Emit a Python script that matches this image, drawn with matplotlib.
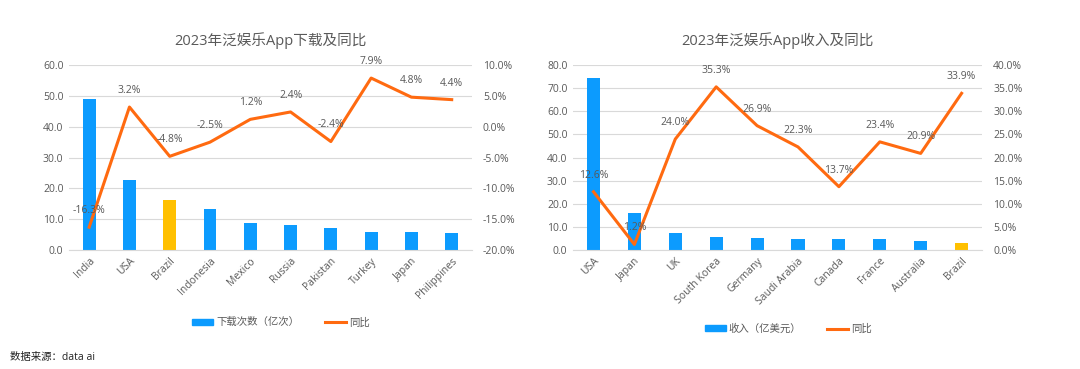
import matplotlib
matplotlib.use('Agg')
import matplotlib.pyplot as plt
import matplotlib.ticker as ticker
from matplotlib.lines import Line2D
from matplotlib.patches import Patch

plt.rcParams['font.family'] = ['Open Sans', 'Noto Sans CJK SC', 'DejaVu Sans']

# download chart
dl_countries = ['India', 'USA', 'Brazil', 'Indonesia', 'Mexico', 'Russia', 'Pakistan', 'Turkey', 'Japan', 'Philippines']
dl_values = [49.0, 22.7, 16.2, 13.2, 8.8, 8.2, 7.0, 5.9, 5.9, 5.6]
dl_growth = [-16.3, 3.2, -4.8, -2.5, 1.2, 2.4, -2.4, 7.9, 4.8, 4.4]

# revenue chart
rev_countries = ['USA', 'Japan', 'UK', 'South Korea', 'Germany', 'Saudi Arabia', 'Canada', 'France', 'Australia', 'Brazil']
rev_values = [74.5, 16.0, 7.3, 5.7, 5.3, 4.6, 4.6, 4.6, 4.1, 3.0]
rev_growth = [12.6, 1.2, 24.0, 35.3, 26.9, 22.3, 13.7, 23.4, 20.9, 33.9]

BLUE = '#0C9BFE'
GOLD = '#FFC000'
ORANGE = '#FF6A10'
GRAY = '#595959'
GRID = '#D9D9D9'


def combo(fig, rect, countries, values, growth, ylim, yticks, y2lim, y2ticks, title, bar_label, leg_y):
    ax = fig.add_axes(rect)
    x = list(range(len(countries)))
    colors = [GOLD if c == 'Brazil' else BLUE for c in countries]
    ax.bar(x, values, width=0.32, color=colors, zorder=2)
    ax.set_xlim(-0.5, len(countries) - 0.5)
    ax.set_ylim(*ylim)
    ax.set_yticks(yticks)
    ax.yaxis.set_major_formatter(ticker.FormatStrFormatter('%.1f'))
    ax.grid(axis='y', color=GRID, linewidth=0.8, zorder=0)
    for s in ['top', 'right', 'left']:
        ax.spines[s].set_visible(False)
    ax.spines['bottom'].set_color(GRID)
    ax.tick_params(length=0, labelsize=7.5, colors=GRAY, pad=4)
    ax.set_xticks(x)
    ax.set_xticklabels(countries, rotation=45, ha='right', rotation_mode='anchor')

    ax2 = ax.twinx()
    ax2.plot(x, growth, color=ORANGE, linewidth=2.2, zorder=3)
    ax2.set_ylim(*y2lim)
    ax2.set_yticks(y2ticks)
    ax2.yaxis.set_major_formatter(ticker.FuncFormatter(lambda v, p: '%.1f%%' % v))
    for s in ['top', 'right', 'left', 'bottom']:
        ax2.spines[s].set_visible(False)
    ax2.tick_params(length=0, labelsize=7.5, colors=GRAY, pad=8)
    for xi, g in zip(x, growth):
        ax2.annotate('%.1f%%' % g, (xi, g), xytext=(0, 8), textcoords='offset points',
                     ha='center', va='bottom', fontsize=7.5, color=GRAY)

    cx = rect[0] + rect[2] / 2
    fig.text(cx, 0.89, title, ha='center', va='center', fontsize=10.5, color=GRAY)
    handles = [Patch(color=BLUE), Line2D([0], [0], color=ORANGE, linewidth=2.2)]
    fig.legend(handles, [bar_label, '同比'], loc='center', bbox_to_anchor=(cx + 0.01, leg_y),
               ncol=2, frameon=False, fontsize=7.5, labelcolor=GRAY,
               handlelength=2.0, handleheight=0.5, columnspacing=2.5, handletextpad=0.3)
    return ax, ax2


fig = plt.figure(figsize=(10.8, 3.69), dpi=100)
combo(fig, [0.0639, 0.3225, 0.373, 0.501], dl_countries, dl_values, dl_growth,
      (0, 60), [0, 10, 20, 30, 40, 50, 60], (-20, 10), [-20, -15, -10, -5, 0, 5, 10],
      '2023年泛娱乐App下载及同比', '下载次数（亿次）', 0.125)
combo(fig, [0.5306, 0.3225, 0.3787, 0.501], rev_countries, rev_values, rev_growth,
      (0, 80), [0, 10, 20, 30, 40, 50, 60, 70, 80], (0, 40), [0, 5, 10, 15, 20, 25, 30, 35, 40],
      '2023年泛娱乐App收入及同比', '收入（亿美元）', 0.107)
fig.text(0.009, 0.032, '数据来源：data ai', ha='left', va='center', fontsize=7.5, color='#222222')

fig.savefig('out.png', dpi=100, facecolor='white')
